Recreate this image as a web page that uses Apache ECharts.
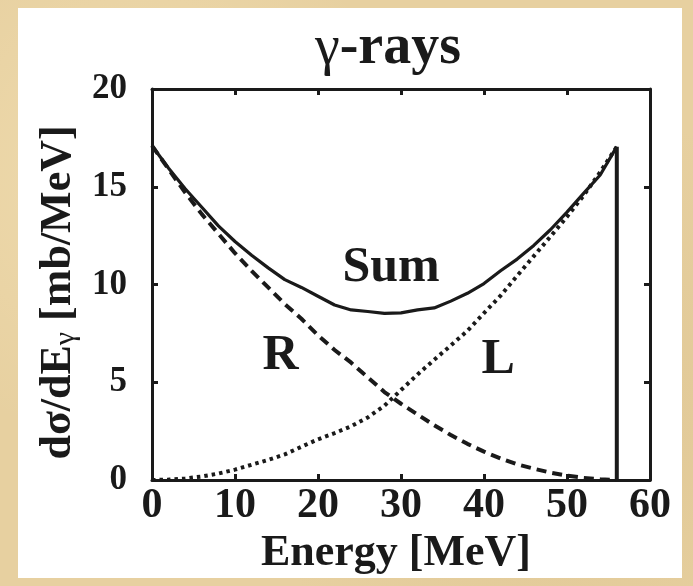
<!DOCTYPE html>
<html>
<head>
<meta charset="utf-8">
<script src="https://cdn.jsdelivr.net/npm/echarts@6/dist/echarts.min.js"></script>
<style>
  html, body { margin: 0; padding: 0; }
  body {
    width: 693px; height: 586px; overflow: hidden; position: relative;
    background-color: #e7d0a0;
    background-image:
      radial-gradient(circle at 20% 30%, rgba(255,240,200,0.35) 0, rgba(255,240,200,0) 40%),
      radial-gradient(circle at 80% 70%, rgba(200,170,110,0.25) 0, rgba(200,170,110,0) 45%);
  }
  #panel { position: absolute; left: 18px; top: 8px; width: 664px; height: 570px; background: #ffffff; }
  #chart { position: absolute; left: 0; top: 0; width: 693px; height: 586px; }
</style>
</head>
<body>
<div id="panel"></div>
<div id="chart"></div>
<script>
// ---- data ----
const energy = [0, 2, 4, 6, 8, 10, 12, 14, 16, 18, 20, 22, 24, 26, 28, 30, 32, 34, 36, 38, 40, 42, 44, 46, 48, 50, 52, 54, 56];
const sumVals = [17.1, 15.95, 14.9, 13.95, 13.0, 12.2, 11.5, 10.85, 10.25, 9.85, 9.4, 8.95, 8.7, 8.62, 8.52, 8.55, 8.7, 8.8, 9.15, 9.55, 10.05, 10.7, 11.3, 12.0, 12.8, 13.7, 14.66, 15.6, 17.05];
const rVals = [17.1, 15.9, 14.7, 13.6, 12.6, 11.6, 10.7, 9.85, 9.0, 8.25, 7.4, 6.65, 6.0, 5.25, 4.5, 3.9, 3.35, 2.8, 2.3, 1.85, 1.45, 1.1, 0.8, 0.58, 0.38, 0.22, 0.11, 0.04, 0];
const lVals = [0, 0.02, 0.08, 0.18, 0.33, 0.53, 0.78, 1.03, 1.31, 1.7, 2.08, 2.4, 2.75, 3.2, 3.8, 4.6, 5.4, 6.15, 6.88, 7.63, 8.54, 9.43, 10.45, 11.45, 12.45, 13.47, 14.55, 15.75, 17.05];
const edgeX = [56, 56];
const edgeY = [0, 17.05];
const xTicks = [0, 10, 20, 30, 40, 50, 60];
const yTicks = [0, 5, 10, 15, 20];
const annotNames = ['Sum', 'R', 'L'];
const annotX = [28.8, 15.5, 41.7];
const annotY = [10.84, 6.34, 6.14];

const FONT = '"Liberation Serif", "Times New Roman", serif';
const INK = '#1a1a1a';

const chart = echarts.init(document.getElementById('chart'), null, { renderer: 'canvas' });

const pair = (xs, ys) => xs.map((x, i) => [x, ys[i]]);

const axisLine = () => ({ show: true, onZero: false, lineStyle: { color: INK, width: 3 } });
const axisTick = () => ({ show: true, inside: true, length: 6, lineStyle: { color: INK, width: 3 } });

const option = {
  animation: false,
  backgroundColor: 'transparent',
  grid: { left: 152, right: 43, top: 89, bottom: 106, containLabel: false },
  xAxis: [
    {
      type: 'value', min: xTicks[0], max: xTicks[xTicks.length - 1], interval: 10, position: 'bottom',
      axisLine: axisLine(), axisTick: axisTick(), splitLine: { show: false },
      axisLabel: { show: true, color: INK, fontFamily: FONT, fontWeight: 'bold', fontSize: 42, margin: 5 },
      name: 'Energy [MeV]', nameLocation: 'middle', nameGap: 39,
      nameTextStyle: { color: INK, fontFamily: FONT, fontWeight: 'bold', fontSize: 44, padding: [0, 10, 0, 0] }
    },
    {
      type: 'value', min: xTicks[0], max: xTicks[xTicks.length - 1], interval: 10, position: 'top',
      axisLine: axisLine(), axisTick: axisTick(), splitLine: { show: false }, axisLabel: { show: false }
    }
  ],
  yAxis: [
    {
      type: 'value', min: yTicks[0], max: yTicks[yTicks.length - 1], interval: 5, position: 'left',
      axisLine: axisLine(), axisTick: axisTick(), splitLine: { show: false },
      axisLabel: { show: true, color: INK, fontFamily: FONT, fontWeight: 'bold', fontSize: 35, margin: 25, padding: [0, 0, 10, 0] },
      name: 'dσ/dE{g|γ} [mb/MeV]', nameLocation: 'middle', nameRotate: 90, nameGap: 67,
      nameTextStyle: {
        color: INK, fontFamily: FONT, fontWeight: 'bold', fontSize: 44, lineHeight: 44, padding: [0, 16, 0, 0],
        rich: {
          g: { fontFamily: FONT, fontWeight: 'normal', fontSize: 30, lineHeight: 20, verticalAlign: 'bottom', color: INK }
        }
      }
    },
    {
      type: 'value', min: yTicks[0], max: yTicks[yTicks.length - 1], interval: 5, position: 'right',
      axisLine: axisLine(), axisTick: axisTick(), splitLine: { show: false }, axisLabel: { show: false }
    }
  ],
  series: [
    {
      name: 'Sum', type: 'line', xAxisIndex: 0, yAxisIndex: 0, showSymbol: false, symbol: 'none',
      data: pair(energy, sumVals), lineStyle: { color: INK, width: 3.2 }, z: 3
    },
    {
      name: 'R', type: 'line', xAxisIndex: 0, yAxisIndex: 0, showSymbol: false, symbol: 'none',
      data: pair(energy, rVals), lineStyle: { color: INK, width: 4, type: [10, 6] }, z: 2
    },
    {
      name: 'L', type: 'line', xAxisIndex: 0, yAxisIndex: 0, showSymbol: false, symbol: 'none',
      data: pair(energy, lVals), lineStyle: { color: INK, width: 4, type: [3.5, 4] }, z: 2
    },
    {
      name: 'Edge', type: 'line', xAxisIndex: 0, yAxisIndex: 0, showSymbol: false, symbol: 'none',
      data: pair(edgeX, edgeY), lineStyle: { color: INK, width: 4 }, z: 3
    }
  ]
};

chart.setOption(option);

// annotations placed in data coordinates, converted through the chart's scales
const texts = annotNames.map((name, i) => {
  const p = chart.convertToPixel({ xAxisIndex: 0, yAxisIndex: 0 }, [annotX[i], annotY[i]]);
  return {
    type: 'text', x: p[0], y: p[1], z: 10,
    style: { text: name, fill: INK, font: 'bold 50px ' + FONT, align: 'center', verticalAlign: 'middle' }
  };
});
texts.push({
  type: 'text', x: 388, y: 49, z: 10,
  style: {
    text: '{g|γ}-rays', fill: INK, fontFamily: FONT, fontWeight: 'bold', fontSize: 56,
    align: 'center', verticalAlign: 'middle',
    rich: { g: { fontFamily: FONT, fontWeight: 'normal', fontSize: 56, fill: INK } }
  }
});
chart.setOption({ graphic: texts });
</script>
</body>
</html>
